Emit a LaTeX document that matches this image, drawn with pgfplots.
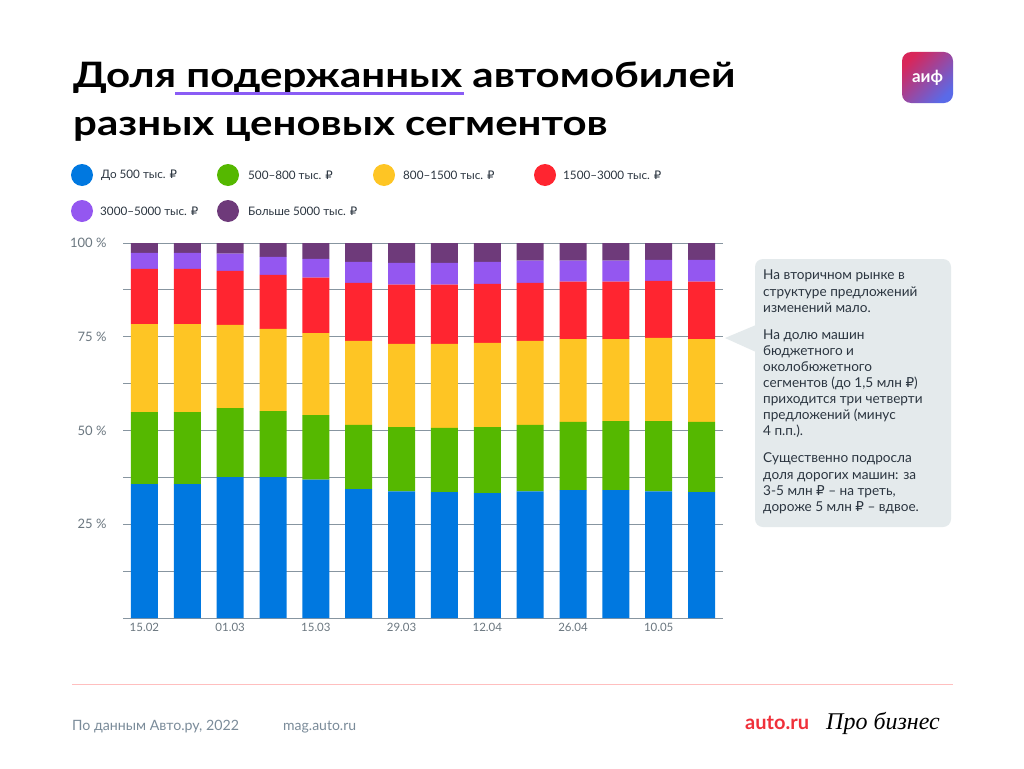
\documentclass[border=0pt]{standalone}
\usepackage{pgfplots}
\pgfplotsset{compat=1.18}
\usepackage{pgfplotstable}
\usepackage{graphicx}
\usepackage{fontspec}
\setmainfont{Lato}
\newfontfamily\djv{DejaVu Sans}
\newfontfamily\scriptf{Liberation Serif}
\newcommand\rub{{\djv ₽}}
\definecolor{cblue}{HTML}{0078E0}
\definecolor{cgreen}{HTML}{55B800}
\definecolor{cyellow}{HTML}{FEC524}
\definecolor{cred}{HTML}{FF2530}
\definecolor{cpurple}{HTML}{9457F0}
\definecolor{cdark}{HTML}{6E3A7A}
\definecolor{gridc}{HTML}{8795A0}
\definecolor{labc}{HTML}{6B7780}
\definecolor{boxc}{HTML}{E4EAEC}
\definecolor{txtc}{HTML}{2B3540}
\definecolor{footc}{HTML}{7A8B99}
\definecolor{ulc}{HTML}{8A5CF5}
\definecolor{logoa}{HTML}{D8265A}
\definecolor{logob}{HTML}{5A6AE8}
\definecolor{autored}{HTML}{F0303A}
\pgfplotstableread{
x b g y r p d
0 35.7 19.2 23.5 14.7 4.3 2.6
1 35.7 19.2 23.5 14.7 4.3 2.6
2 37.6 18.4 22.2 14.4 4.6 2.8
3 37.6 17.6 21.9 14.4 4.8 3.7
4 36.9 17.2 21.9 14.8 5.0 4.2
5 34.4 17.1 22.4 15.5 5.6 5.0
6 33.8 17.1 22.2 15.8 5.8 5.3
7 33.6 17.1 22.4 15.8 5.8 5.3
8 33.3 17.6 22.5 15.7 5.9 5.0
9 33.8 17.7 22.4 15.5 5.9 4.7
10 34.1 18.2 22.1 15.3 5.6 4.7
11 34.1 18.4 21.9 15.3 5.6 4.7
12 33.8 18.7 22.2 15.2 5.6 4.5
13 33.6 18.7 22.1 15.3 5.8 4.5
}\datatable
\begin{document}
\begin{tikzpicture}[x=1pt,y=-1pt]
\useasboundingbox[fill=white] (0,0) rectangle (1024,768);
% title
\node[anchor=base west,inner sep=0pt,font=\fontsize{35}{42}\selectfont\bfseries] at (73,87) {\scalebox{1.2}[1]{Доля подержанных автомобилей}};
\node[anchor=base west,inner sep=0pt,font=\fontsize{35}{42}\selectfont\bfseries] at (73,135) {\scalebox{1.2}[1]{разных ценовых сегментов}};
\draw[line width=3pt,color=ulc] (175,93) -- (464,93);
% legend
\foreach \cx/\tx/\cy/\col/\lab in {
 82/101/175/cblue/{До 500 тыс. \rub},
 228/248/175/cgreen/{500--800 тыс. \rub},
 384/403/175/cyellow/{800--1500 тыс. \rub},
 545/563/175/cred/{1500--3000 тыс. \rub},
 82/100/211/cpurple/{3000--5000 тыс. \rub},
 228/248/211/cdark/{Больше 5000 тыс. \rub}}{
 \fill[\col] (\cx,\cy) circle (11);
 \node[anchor=west,inner sep=0pt,font=\fontsize{11.7}{13}\selectfont,text=txtc] at (\tx,\cy) {\lab};
}
% axis
\begin{axis}[
  at={(123pt,-618pt)}, anchor=south west,
  scale only axis, width=600pt, height=375pt,
  ybar stacked, bar width=27pt,
  xmin=-0.5, xmax=13.5, ymin=0, ymax=100,
  axis x line*=bottom, axis y line*=left,
  y axis line style={draw=none},
  x axis line style={draw=gridc,line width=0.8pt},
  ytick={12.5,25,37.5,50,62.5,75,87.5,100},
  yticklabels={,25 \%,,50 \%,,75 \%,,100 \%},
  ymajorgrids, grid style={draw=gridc,line width=0.8pt},
  ytick style={draw=none},
  yticklabel style={font=\fontsize{13}{15}\selectfont,text=labc,xshift=-13pt},
  xtick={0,2,4,6,8,10,12},
  xticklabels={15.02,01.03,15.03,29.03,12.04,26.04,10.05},
  xticklabel style={font=\fontsize{11.5}{13}\selectfont,text=labc,yshift=-2pt},
  x tick style={draw=none},
  extra x ticks={0.5,1.5,2.5,3.5,4.5,5.5,6.5,7.5,8.5,9.5,10.5,11.5,12.5},
  extra x tick labels={},
  extra x tick style={tick style={draw=gridc!70,line width=0.6pt}, major tick length=4pt, tick align=outside},
  every axis plot/.append style={draw=none},
  clip=false,
]
\addplot[fill=cblue] table[x=x,y=b]{\datatable};
\addplot[fill=cgreen] table[x=x,y=g]{\datatable};
\addplot[fill=cyellow] table[x=x,y=y]{\datatable};
\addplot[fill=cred] table[x=x,y=r]{\datatable};
\addplot[fill=cpurple] table[x=x,y=p]{\datatable};
\addplot[fill=cdark] table[x=x,y=d]{\datatable};
\end{axis}
% annotation box
\fill[boxc,rounded corners=8pt] (755,259) rectangle (951,527);
\fill[boxc] (756,325) -- (725,338) -- (756,352) -- cycle;
\node[anchor=north west,inner sep=0pt,align=left,text=txtc,font=\fontsize{13.6}{16.1}\selectfont] at (763,270) {На вторичном рынке в\\структуре предложений\\изменений мало.\\[11pt]На долю машин\\бюджетного и\\околобюжетного\\сегментов (до 1,5 млн \rub)\\приходится три четверти\\предложений (минус\\4 п.п.).\\[11pt]Существенно подросла\\доля дорогих машин: за\\3-5 млн \rub{} -- на треть,\\дороже 5 млн \rub{} -- вдвое.};
% AiF logo
\shade[rounded corners=9pt,shading=axis,left color=logoa,right color=logob,shading angle=45] (902,52) rectangle (953,103);
\node[text=white,font=\fontsize{17}{18}\selectfont\bfseries,inner sep=0pt] at (927.5,77.5) {аиф};
% footer
\draw[color=red!25,line width=0.8pt] (72,684) -- (953,684);
\node[anchor=base west,inner sep=0pt,text=footc,font=\fontsize{14.2}{16}\selectfont] at (72,730) {По данным Авто.ру, 2022};
\node[anchor=base west,inner sep=0pt,text=footc,font=\fontsize{14}{16}\selectfont] at (283,730) {mag.auto.ru};
\node[anchor=base west,inner sep=0pt,text=autored,font=\fontsize{20}{22}\selectfont\bfseries] at (745,729) {auto.ru};
\node[anchor=base west,inner sep=0pt,text=black,font=\fontsize{24}{26}\selectfont\scriptf\itshape] at (826,729) {Про бизнес};
\end{tikzpicture}
\end{document}
